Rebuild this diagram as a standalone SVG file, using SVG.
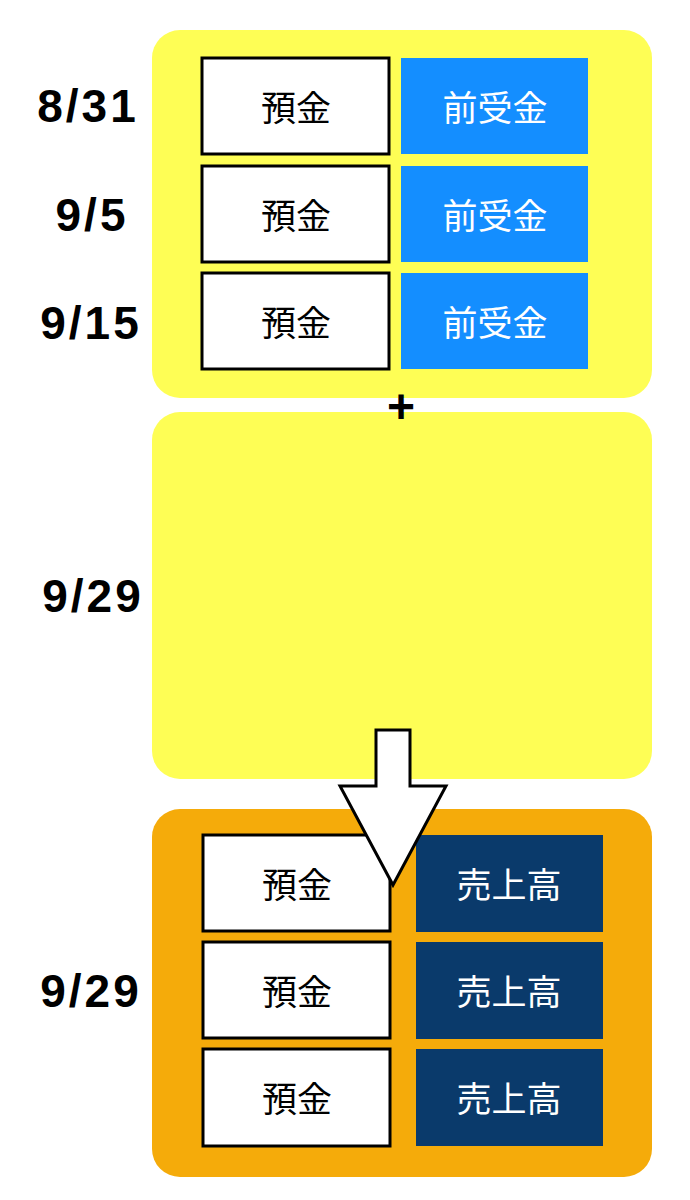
<svg xmlns="http://www.w3.org/2000/svg" width="690" height="1200" viewBox="0 0 690 1200">
<style>
.date{font-family:"Liberation Sans","Noto Sans",sans-serif;font-weight:bold;font-size:46px;letter-spacing:3px;fill:#000;text-anchor:middle}
.lbl{font-family:"Noto Sans CJK JP",sans-serif;font-size:35px;text-anchor:middle}
.wbox{fill:#fff;stroke:#000;stroke-width:3}
.blue{fill:#148eff}
.navy{fill:#0a3a6b}
</style>
<rect width="690" height="1200" fill="#fff"/>
<g id="group-top"><rect x="152" y="30" width="500" height="368" rx="28" fill="#fefe55"/></g>
<g id="group-mid"><rect x="152" y="412" width="500" height="367" rx="28" fill="#fefe55"/></g>
<g id="group-bottom"><rect x="152" y="809" width="500" height="368" rx="28" fill="#f5ab0a"/></g>
<g id="plus"><text x="401" y="423" font-family="Liberation Sans,sans-serif" font-weight="bold" font-size="48" text-anchor="middle" fill="#000">+</text></g>
<g id="dates">
<text x="88" y="122" class="date">8/31</text>
<text x="92" y="231" class="date">9/5</text>
<text x="91" y="339" class="date">9/15</text>
<text x="93" y="612" class="date">9/29</text>
<text x="91" y="1007" class="date">9/29</text>
</g>
<g id="r1"><rect x="202" y="58" width="187" height="96" class="wbox"/><text x="296" y="121" class="lbl">預金</text></g>
<g id="r1b"><rect x="401" y="58" width="187" height="96" class="blue"/><text x="495" y="121" class="lbl" fill="#fff">前受金</text></g>
<g id="r2"><rect x="202" y="166" width="187" height="96" class="wbox"/><text x="296" y="229" class="lbl">預金</text></g>
<g id="r2b"><rect x="401" y="166" width="187" height="96" class="blue"/><text x="495" y="229" class="lbl" fill="#fff">前受金</text></g>
<g id="r3"><rect x="202" y="273" width="187" height="96" class="wbox"/><text x="296" y="336" class="lbl">預金</text></g>
<g id="r3b"><rect x="401" y="273" width="187" height="96" class="blue"/><text x="495" y="336" class="lbl" fill="#fff">前受金</text></g>
<g id="s1"><rect x="203" y="835" width="187" height="96" class="wbox"/><text x="297" y="898" class="lbl">預金</text></g>
<g id="s1b"><rect x="416" y="835" width="187" height="97" class="navy"/><text x="509" y="898" class="lbl" fill="#fff">売上高</text></g>
<g id="s2"><rect x="203" y="942" width="187" height="96" class="wbox"/><text x="297" y="1005" class="lbl">預金</text></g>
<g id="s2b"><rect x="416" y="942" width="187" height="97" class="navy"/><text x="509" y="1005" class="lbl" fill="#fff">売上高</text></g>
<g id="s3"><rect x="203" y="1049" width="187" height="97" class="wbox"/><text x="297" y="1112" class="lbl">預金</text></g>
<g id="s3b"><rect x="416" y="1049" width="187" height="97" class="navy"/><text x="509" y="1112" class="lbl" fill="#fff">売上高</text></g>
<g id="connectors">
<path d="M376 730 H410 V786 H446 L393 885 L340 786 H376 Z" fill="#fff" stroke="#000" stroke-width="3" stroke-linejoin="miter"/>
</g>
</svg>
